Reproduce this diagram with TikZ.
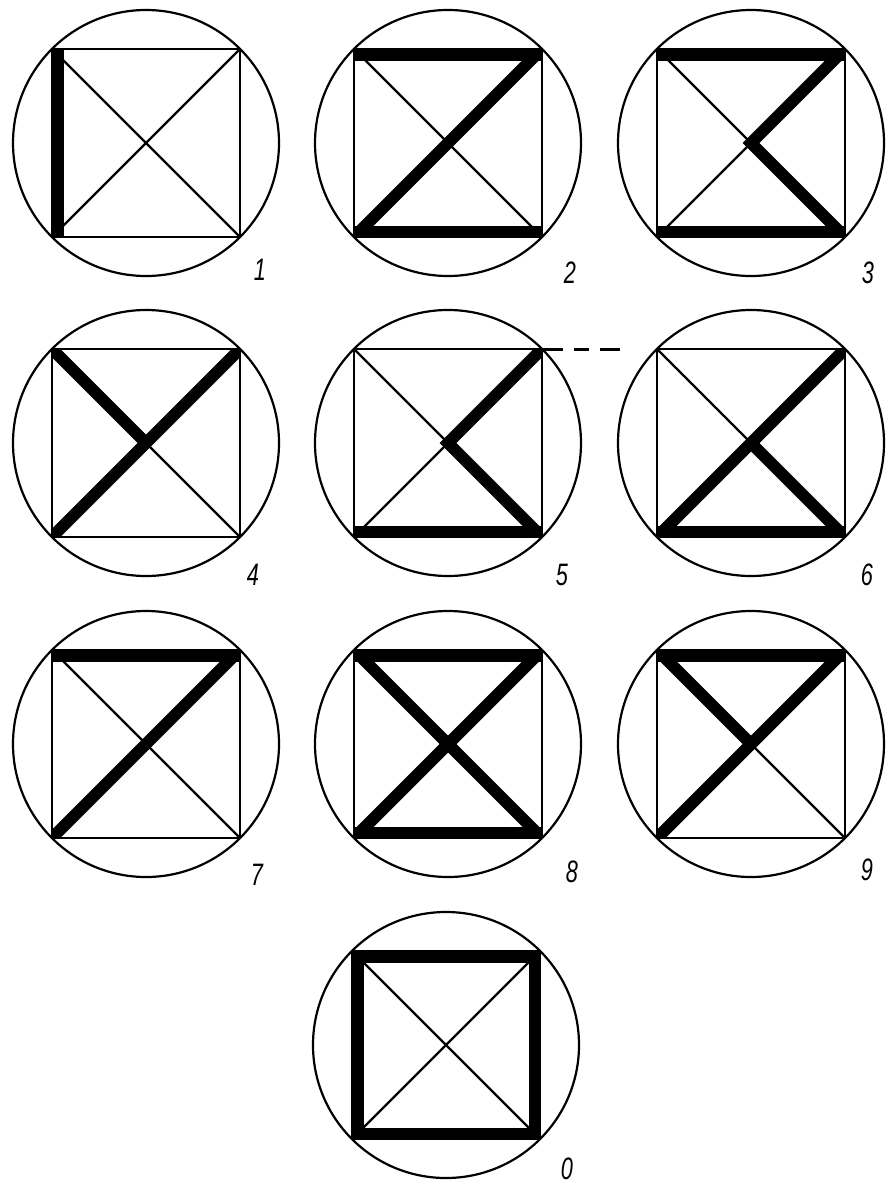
\documentclass[tikz,border=0pt]{standalone}
\usepackage{fontspec}
\setmainfont{Liberation Sans}
\usepackage{graphicx}
\tikzset{
  thinline/.style={line width=2.2pt, black},
  edgebold/.style={line width=23pt, black},
  diagbold/.style={line width=12pt, black, line join=miter},
  dashline/.style={line width=3pt, black, dash pattern=on 21pt off 11pt on 15pt off 11pt on 21pt},
  numlabel/.style={inner sep=0pt, font=\fontsize{31}{33}\selectfont\itshape}
}
% #1 prefix, #2 centre, #3 bold strokes
\newcommand\digitcell[3]{%
  \begin{scope}[shift={#2}]
    \coordinate (#1c) at (0,0);
    \coordinate (#1tl) at (-94,-94);
    \coordinate (#1tr) at (94,-94);
    \coordinate (#1bl) at (-94,94);
    \coordinate (#1br) at (94,94);
    \draw[thinline] (#1c) circle[radius=133];
    \draw[thinline] (#1tl) rectangle (#1br);
    \draw[thinline] (#1tl) -- (#1br);
    \draw[thinline] (#1tr) -- (#1bl);
    \begin{scope}
      \clip (#1tl) rectangle (#1br);
      #3
    \end{scope}
  \end{scope}%
}
\begin{document}
\begin{tikzpicture}[x=1pt,y=-1pt]
\useasboundingbox[fill=white] (0,0) rectangle (886,1186);

% 1
\digitcell{a}{(146,143)}{\draw[edgebold] (atl) -- (abl);}
% 2
\digitcell{b}{(448,143)}{%
  \draw[edgebold] (btl) -- (btr);
  \draw[edgebold] (bbl) -- (bbr);
  \draw[diagbold] (btr) -- (bbl);}
% 3
\digitcell{d}{(751,143)}{%
  \draw[edgebold] (dtl) -- (dtr);
  \draw[edgebold] (dbl) -- (dbr);
  \draw[diagbold] (dtr) -- (dc) -- (dbr);}
% 4
\digitcell{e}{(146,443)}{%
  \draw[diagbold] (etr) -- (ebl);
  \draw[diagbold] (etl) -- (ec);}
% 5
\digitcell{f}{(448,443)}{%
  \draw[edgebold] (fbl) -- (fbr);
  \draw[diagbold] (ftr) -- (fc) -- (fbr);}
% 6
\digitcell{g}{(751,443)}{%
  \draw[edgebold] (gbl) -- (gbr);
  \draw[diagbold] (gtr) -- (gbl);
  \draw[diagbold] (gc) -- (gbr);}
% 7
\digitcell{h}{(146,744)}{%
  \draw[edgebold] (htl) -- (htr);
  \draw[diagbold] (htr) -- (hbl);}
% 8
\digitcell{k}{(448,744)}{%
  \draw[edgebold] (ktl) -- (ktr);
  \draw[edgebold] (kbl) -- (kbr);
  \draw[diagbold] (ktr) -- (kbl);
  \draw[diagbold] (ktl) -- (kbr);}
% 9
\digitcell{m}{(751,744)}{%
  \draw[edgebold] (mtl) -- (mtr);
  \draw[diagbold] (mtr) -- (mbl);
  \draw[diagbold] (mtl) -- (mc);}
% 0
\digitcell{z}{(446,1045)}{%
  \draw[edgebold] (ztl) -- (ztr) -- (zbr) -- (zbl) -- cycle;}

% dashed continuation from 5
\coordinate (dashend) at (620,349);
\draw[dashline] (ftr) -- (dashend);

% labels
\node[numlabel] (l1) at (260,270) {\scalebox{0.7}[1]{1}};
\node[numlabel] (l2) at (570,273) {\scalebox{0.7}[1]{2}};
\node[numlabel] (l3) at (868,273) {\scalebox{0.7}[1]{3}};
\node[numlabel] (l4) at (253,575) {\scalebox{0.7}[1]{4}};
\node[numlabel] (l5) at (562,575) {\scalebox{0.7}[1]{5}};
\node[numlabel] (l6) at (867,575) {\scalebox{0.7}[1]{6}};
\node[numlabel] (l7) at (257,875) {\scalebox{0.7}[1]{7}};
\node[numlabel] (l8) at (572,872) {\scalebox{0.7}[1]{8}};
\node[numlabel] (l9) at (867,870) {\scalebox{0.7}[1]{9}};
\node[numlabel] (l0) at (567,1169) {\scalebox{0.7}[1]{0}};
\end{tikzpicture}
\end{document}
